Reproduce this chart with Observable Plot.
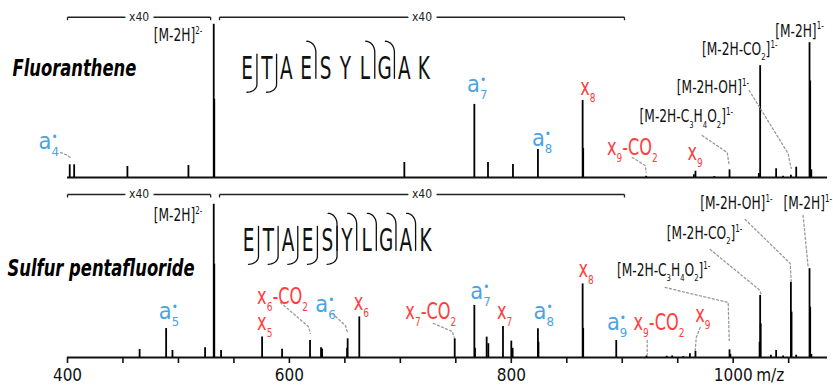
<!DOCTYPE html>
<html>
<head>
<meta charset="utf-8">
<script src="https://cdn.jsdelivr.net/npm/d3@7"></script>
<script src="https://cdn.jsdelivr.net/npm/@observablehq/plot@0.6"></script>
<style>
  html, body { margin: 0; padding: 0; background: #fff; }
  #chart { width: 833px; height: 386px; overflow: hidden; }
</style>
</head>
<body>
<div id="chart"></div>
<script>
// ---------------- DATA ----------------
const panels = ["Fluoranthene", "Sulfur pentafluoride"];

// Fluoranthene spectrum (m/z, displayed relative intensity; x40 below 902 m/z)
const fluorMz  = [402, 406, 454, 509, 531.8, 532.3, 703.6, 766.7, 779, 801.5, 824, 864.3, 864.8, 921.6, 964.6, 966, 983, 996.7, 1023.1, 1024.3, 1038.7, 1045, 1052, 1056.8, 1068.8, 1069.4, 1070.4];
const fluorInt = [8.3, 8.3, 7.2, 7.8, 100, 51, 9.8, 47.7, 9.8, 8.5, 18.3, 50.3, 19, 0.8, 1.8, 4.1, 0.6, 5, 2.6, 73, 5.7, 0.8, 1.5, 6.7, 88, 63, 5];

// Sulfur pentafluoride spectrum
const sf5Mz  = [465, 488.9, 494.6, 524, 531.8, 532.3, 538.4, 575.4, 593.4, 618.6, 628.5, 629.5, 652, 652.5, 663, 749, 766.7, 767.3, 777.8, 779.3, 792.5, 800, 801.2, 824, 824.5, 864.3, 864.8, 894.6, 921.9, 940, 945, 955, 961, 966, 996.7, 997.5, 1023.8, 1024.3, 1024.8, 1034, 1038.7, 1045, 1052, 1052.6, 1056.8, 1068.8, 1069.4, 1070.5];
const sf5Int = [5.2, 18.9, 4.6, 6.3, 100, 61, 4.6, 13.4, 5.4, 11.1, 6.3, 5.5, 6, 12.2, 26.5, 12.2, 34, 6, 13.3, 9, 20.2, 10.7, 6, 18.7, 10, 48, 19, 11.1, 1, 0.8, 1, 0.6, 2.5, 4, 5, 2, 10, 40.5, 22, 1.5, 4.6, 1, 49, 29.6, 1.5, 58, 32.8, 2];

// peptide sequence and observed fragment ions
const sequence = ["E", "T", "A", "E", "S", "Y", "L", "G", "A", "K"];
const fluorAIons = [4, 7, 8];
const fluorXIons = [8, 9];
const sf5AIons = [5, 6, 7, 8, 9];
const sf5XIons = [5, 6, 7, 8, 9];
// sequence annotation anchor (m/z of first residue, letter spacing in m/z, vertical anchor)
const seqStart = [561.9, 563.3];
const seqStep = 17.7;
const seqY = [71.3, 76.5];

// magnified regions
const zoomStart = [400, 537];
const zoomEnd = [529, 902];
const zoomLabel = ["x40", "x40"];
const zoomY = [104.6, 106.4];

// peak labels: [text, m/z, y, kind]
const fluorLabels = [
  ["a^{•}_{4}", 373.9, 23.5, "a"],
  ["a^{•}_{7}", 760.1, 60.7, "a"],
  ["a^{•}_{8}", 818.6, 25.1, "a"],
  ["x_{8}", 862.2, 58.4, "x"],
  ["x_{9}-CO_{2}", 886.2, 19.3, "x"],
  ["x_{9}", 958.8, 16, "x"],
  ["[M-2H]^{2-}", 477.7, 92.7, "M"],
  ["[M-2H-C_{3}H_{4}O_{2}]^{1-}", 915.6, 39.5, "M"],
  ["[M-2H-OH]^{1-}", 949.2, 58.7, "M"],
  ["[M-2H-CO_{2}]^{1-}", 971.8, 83.7, "M"],
  ["[M-2H]^{1-}", 1037.8, 95.5, "M"]
];
const sf5Labels = [
  ["a^{•}_{5}", 482.3, 30, "a"],
  ["x_{6}-CO_{2}", 570.9, 39.8, "x"],
  ["x_{5}", 570.9, 22.5, "x"],
  ["a^{•}_{6}", 623.4, 34.6, "a"],
  ["x_{6}", 657.9, 35.6, "x"],
  ["x_{7}-CO_{2}", 704.5, 30, "x"],
  ["a^{•}_{7}", 763.1, 43.1, "a"],
  ["x_{7}", 787.1, 30, "x"],
  ["a^{•}_{8}", 820.1, 30, "a"],
  ["x_{8}", 860.6, 57.4, "x"],
  ["a^{•}_{9}", 886.2, 22.5, "a"],
  ["x_{9}-CO_{2}", 910.2, 22.5, "x"],
  ["x_{9}", 965.8, 28, "x"],
  ["[M-2H]^{2-}", 477.7, 92.7, "M"],
  ["[M-2H-C_{3}H_{4}O_{2}]^{1-}", 895.2, 56.8, "M"],
  ["[M-2H-CO_{2}]^{1-}", 940.2, 80.7, "M"],
  ["[M-2H-OH]^{1-}", 970.3, 100.3, "M"],
  ["[M-2H]^{1-}", 1045.3, 100.3, "M"]
];

// dashed leader lines from labels to peaks: lists of [m/z, y]
const fluorLeaders = [
  [[393.7, 16.3], [398.5, 15], [402.7, 13]],
  [[909, 13.1], [920.7, 7.8], [921.6, 3.3]],
  [[972, 27.4], [994.6, 16.3], [996.4, 7.8]],
  [[1014.4, 56.8], [1049.5, 15.7], [1052.3, 5.9]]
];
const sf5Leaders = [
  [[591.9, 35.9], [617.1, 20.2], [618.9, 15.7]],
  [[638.7, 28.7], [650.5, 20.9], [652.3, 16.3]],
  [[729.7, 22.2], [746.8, 17], [748.6, 13.1]],
  [[922.5, 11.1], [922.5, 2]],
  [[970.3, 19.6], [966.7, 13.1], [965.8, 4.6]],
  [[938.7, 45.7], [995.5, 35.9], [996.4, 11.1]],
  [[979.3, 70.5], [1024.3, 43.7], [1025.2, 40.5]],
  [[1010.8, 90.1], [1051.4, 61.4], [1052.3, 49]],
  [[1063, 92.7], [1067.6, 58.7]]
];

// panel titles: [m/z of left edge, y]
const titleX = [350.5, 346];
const titleY = [70.8, 58.1];

// axis
const xDomain = [400, 1085];
const tickValues = d3.range(400, 1051, 50);
const labeledTicks = [400, 600, 800, 1000];
const axisUnit = "m/z";

// ---------------- LAYOUT ----------------
const W = 833, H = 386, ML = 67, MR = 6, MT = 10, MB = 29;
const facetH = 167, facetGap = 13, yMax = 109;
const kx = (W - ML - MR) / (xDomain[1] - xDomain[0]);
const ky = facetH / yMax;
const BLUE = "#4aa3df", RED = "#ff3d3d";
const TICK = 6, TICKPAD = 5, TICKFS = 17;

function pickFont(cands) {
  const c = document.createElement("canvas").getContext("2d");
  const test = "mmmmmmmmmmlliWW0123456789";
  for (const f of cands) {
    let ok = false;
    for (const base of ["monospace", "serif"]) {
      c.font = `40px ${base}`; const w0 = c.measureText(test).width;
      c.font = `40px "${f}", ${base}`; const w1 = c.measureText(test).width;
      if (Math.abs(w1 - w0) > 0.5) ok = true;
    }
    if (ok) return `"${f}"`;
  }
  return "sans-serif";
}
const FONT = pickFont(["Liberation Sans Narrow", "DejaVu Sans Condensed", "Roboto Condensed", "Open Sans Condensed", "Roboto"]);

// ---------------- DERIVED TABLES ----------------
const peaks = [
  ...fluorMz.map((mz, i) => ({panel: panels[0], mz, int: fluorInt[i]})),
  ...sf5Mz.map((mz, i) => ({panel: panels[1], mz, int: sf5Int[i]}))
];
const toLabel = (panel) => ([text, mz, y, kind]) => ({panel, text, mz, y, kind});
const labels = [...fluorLabels.map(toLabel(panels[0])), ...sf5Labels.map(toLabel(panels[1]))];
const ionLabels = labels.filter(d => d.kind !== "M");
const molLabels = labels.filter(d => d.kind === "M");

const leaders = [];
[[fluorLeaders, panels[0]], [sf5Leaders, panels[1]]].forEach(([list, panel]) =>
  list.forEach((pts, k) => pts.forEach(([mz, y]) => leaders.push({panel, key: panel + k, mz, y}))));

const zooms = [];
panels.forEach((panel, p) => zoomStart.forEach((s, i) =>
  zooms.push({panel, x1: s, x2: zoomEnd[i], xm: (s + zoomEnd[i]) / 2, y: zoomY[p], label: zoomLabel[i]})));

const letters = [];
panels.forEach((panel, p) => sequence.forEach((ch, i) =>
  letters.push({panel, ch, mz: seqStart[p] + i * seqStep, y: seqY[p]})));

// cleavage markers: a-ions curl at top, x-ions curl at bottom (glyph geometry in px)
const markers = [];
function addMarkers(panel, p, aIons, xIons) {
  const dx = px => px / kx, dy = px => -px / ky;
  for (const n of aIons) {
    const cx = seqStart[p] + (n - 0.5) * seqStep, key = panel + "a" + n;
    for (let i = 0; i <= 10; i++) {
      const th = Math.PI / 2 * (1 - i / 10);
      markers.push({panel, key, mz: cx + dx(-9 + 9 * Math.cos(th)), y: seqY[p] + dy(-16 - 11 * Math.sin(th))});
    }
    markers.push({panel, key, mz: cx, y: seqY[p] + dy(10)});
  }
  for (const n of xIons) {
    const c = sequence.length - n;
    const cx = seqStart[p] + (c - 0.5) * seqStep, key = panel + "x" + n;
    markers.push({panel, key, mz: cx, y: seqY[p] + dy(-14)});
    for (let i = 0; i <= 10; i++) {
      const th = Math.PI / 2 * (i / 10);
      markers.push({panel, key, mz: cx + dx(-10 + 10 * Math.cos(th)), y: seqY[p] + dy(16 + 8 * Math.sin(th))});
    }
  }
}
addMarkers(panels[0], 0, fluorAIons, fluorXIons);
addMarkers(panels[1], 1, sf5AIons, sf5XIons);

const titles = panels.map((panel, p) => ({panel, text: panel, mz: titleX[p], y: titleY[p]}));

// ---------------- PLOT ----------------
const chart = Plot.plot({
  width: W, height: H,
  marginLeft: ML, marginRight: MR, marginTop: MT, marginBottom: MB,
  style: {fontFamily: FONT, background: "#fff", overflow: "visible"},
  x: {domain: xDomain},
  y: {domain: [0, yMax], axis: null},
  fy: {domain: panels, paddingInner: facetGap / (facetH + facetGap), paddingOuter: 0, round: false, axis: null},
  marks: [
    Plot.ruleY([0], {stroke: "#111", strokeWidth: 2}),
    Plot.axisX({ticks: tickValues, tickSize: TICK, tickPadding: TICKPAD, stroke: "#111", strokeWidth: 1.6,
      tickFormat: d => labeledTicks.includes(d) ? String(d) : "", fontSize: TICKFS, fill: "#111"}),
    Plot.text([axisUnit], {fy: () => panels[1], x: () => labeledTicks[labeledTicks.length - 1], y: () => 0,
      dx: 23, dy: TICK + TICKPAD, text: d => d, textAnchor: "start", lineAnchor: "top", fontSize: TICKFS, fill: "#111"}),
    // magnification brackets
    Plot.link(zooms, {x1: "x1", x2: "x2", y1: "y", y2: "y", fy: "panel", stroke: "#222", strokeWidth: 1.3}),
    Plot.link(zooms, {x1: "x1", x2: "x1", y1: "y", y2: d => d.y - 3 / ky, fy: "panel", stroke: "#222", strokeWidth: 1.3}),
    Plot.link(zooms, {x1: "x2", x2: "x2", y1: "y", y2: d => d.y - 3 / ky, fy: "panel", stroke: "#222", strokeWidth: 1.3}),
    Plot.text(zooms, {x: "xm", y: "y", text: "label", fy: "panel", fontSize: 12, fill: "#222",
      stroke: "#fff", strokeWidth: 10, paintOrder: "stroke"}),
    // peaks
    Plot.ruleX(peaks, {x: "mz", y1: 0, y2: "int", fy: "panel", stroke: "#000", strokeWidth: 1.8}),
    // leaders
    Plot.line(leaders, {x: "mz", y: "y", z: "key", fy: "panel", stroke: "#999", strokeWidth: 1.3, strokeDasharray: "2,2.4"}),
    // sequence
    Plot.text(letters, {x: "mz", y: "y", text: "ch", fy: "panel", fontSize: 32, fill: "#111"}),
    Plot.line(markers, {x: "mz", y: "y", z: "key", fy: "panel", stroke: "#111", strokeWidth: 1.3}),
    // labels
    Plot.text(ionLabels, {x: "mz", y: "y", text: "text", fy: "panel", textAnchor: "start", fontSize: 23,
      fill: d => d.kind === "a" ? BLUE : RED}),
    Plot.text(molLabels, {x: "mz", y: "y", text: "text", fy: "panel", textAnchor: "start", fontSize: 17, fill: "#111"}),
    // titles
    Plot.text(titles, {x: "mz", y: "y", text: "text", fy: "panel", textAnchor: "start", fontSize: 23,
      fontWeight: "bold", fontStyle: "italic", fill: "#000"})
  ]
});
document.getElementById("chart").appendChild(chart);

// classify texts (condensed-type look via textLength)
const condense = new Map();
sequence.forEach(ch => condense.set(ch, 0.64));
panels.forEach(t => condense.set(t, 0.79));
ionLabels.forEach(d => condense.set(d.text, 0.78));
molLabels.forEach(d => condense.set(d.text, 0.8));
const textEls = Array.from(chart.querySelectorAll("text")).map(t => [t, condense.get(t.textContent)]);

// rich text: _{sub} and ^{sup}
function richify(t) {
  const NS = "http://www.w3.org/2000/svg";
  const s = t.textContent;
  if (!/[_^]\{/.test(s)) return;
  const fs = parseFloat(getComputedStyle(t).fontSize) || 16;
  const parts = s.split(/([_^]\{[^}]*\})/).filter(p => p);
  t.textContent = "";
  let cur = 0, prevLen = 0, prevScript = false;
  for (const p of parts) {
    const ts = document.createElementNS(NS, "tspan");
    let target = 0, scale = 1, content = p, script = false;
    if (p[0] === "^") {
      content = p.slice(2, -1); script = true;
      if (content === "•") { target = -0.36 * fs; scale = 0.5; }
      else { target = -0.42 * fs; scale = 0.58; }
    } else if (p[0] === "_") {
      content = p.slice(2, -1); script = true; target = 0.3 * fs; scale = 0.56;
    }
    ts.setAttribute("dy", (target - cur).toFixed(2));
    cur = target;
    if (scale !== 1) ts.setAttribute("font-size", (fs * scale).toFixed(2));
    if (script && prevScript) ts.setAttribute("dx", (-prevLen).toFixed(2));
    ts.textContent = content;
    t.appendChild(ts);
    prevLen = script ? ts.getComputedTextLength() : 0;
    prevScript = script;
  }
}
for (const [t, f] of textEls) {
  richify(t);
  if (f) {
    const len = t.getComputedTextLength();
    t.setAttribute("textLength", (len * f).toFixed(2));
    t.setAttribute("lengthAdjust", "spacingAndGlyphs");
  }
}
</script>
</body>
</html>
